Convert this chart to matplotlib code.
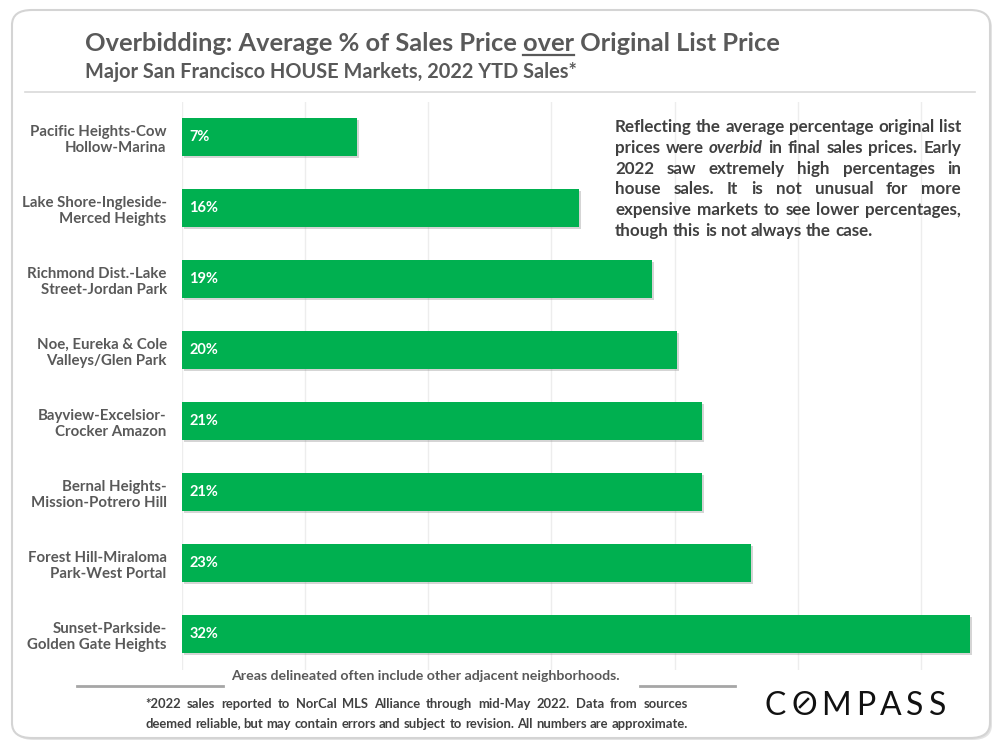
import matplotlib
matplotlib.use('Agg')
import matplotlib.pyplot as plt
from matplotlib.patches import FancyBboxPatch
from matplotlib.lines import Line2D
import matplotlib.patheffects as pe

# ---------------- data ----------------
categories = [
    "Pacific Heights-Cow\nHollow-Marina",
    "Lake Shore-Ingleside-\nMerced Heights",
    "Richmond Dist.-Lake\nStreet-Jordan Park",
    "Noe, Eureka & Cole\nValleys/Glen Park",
    "Bayview-Excelsior-\nCrocker Amazon",
    "Bernal Heights-\nMission-Potrero Hill",
    "Forest Hill-Miraloma\nPark-West Portal",
    "Sunset-Parkside-\nGolden Gate Heights",
]
values = [7.1, 16.1, 19.1, 20.1, 21.1, 21.1, 23.1, 32.0]
value_labels = ["7%", "16%", "19%", "20%", "21%", "21%", "23%", "32%"]

title = "Overbidding: Average % of Sales Price over Original List Price"
title_underlined = "over"
subtitle = "Major San Francisco HOUSE Markets, 2022 YTD Sales*"
note_lines = [
    "Reflecting the average percentage original list",
    "prices were overbid in final sales prices. Early",
    "2022 saw extremely high percentages in",
    "house sales. It is not unusual for more",
    "expensive markets to see lower percentages,",
    "though this is not always the case.",
]
note_italic = {"overbid"}
areas_note = "Areas delineated often include other adjacent neighborhoods."
foot_lines = [
    "*2022 sales reported to NorCal MLS Alliance through mid-May 2022. Data from sources",
    "deemed reliable, but may contain errors and subject to revision. All numbers are approximate.",
]
brand = "COMPASS"

# ---------------- setup ----------------
W, H = 1000, 750
fig = plt.figure(figsize=(10, 7.5), dpi=100)
fig.patch.set_facecolor('white')
renderer = fig.canvas.get_renderer()
FONT = ['Lato', 'DejaVu Sans']

GREEN = '#00B050'
GREY_T = '#595959'
DARK_T = '#404040'


def fx(px):
    return px / W


def fy(py):
    return 1 - py / H


def text_width(s, size, weight='bold', style='normal'):
    t = fig.text(0, 0, s, fontsize=size, fontweight=weight, fontstyle=style, family=FONT)
    w = t.get_window_extent(renderer).width
    t.remove()
    return w


def fit_size(s, target, weight='bold', style='normal'):
    return 10 * target / text_width(s, 10, weight, style)


# ---------------- frame ----------------
shadow = FancyBboxPatch((fx(14), fy(740)), fx(978), (738 - 10) / H,
                        boxstyle='round,pad=0,rounding_size=0.02',
                        transform=fig.transFigure, fc='#E4E4E4', ec='none', zorder=-3)
frame = FancyBboxPatch((fx(12), fy(738)), fx(978), (738 - 10) / H,
                       boxstyle='round,pad=0,rounding_size=0.02',
                       transform=fig.transFigure, fc='white', ec='#D4D4D4', lw=1.5, zorder=-2)
fig.add_artist(shadow)
fig.add_artist(frame)

# ---------------- title ----------------
tsize = fit_size(title, 697)
fig.text(fx(85), fy(51), title, fontsize=tsize, fontweight='bold', color=GREY_T,
         family=FONT, ha='left', va='baseline')
idx = title.index(title_underlined) + len(title_underlined)
end = text_width(title[:idx], tsize)
start = end - text_width(title_underlined, tsize)
fig.add_artist(Line2D([fx(85 + start), fx(85 + end)], [fy(55), fy(55)],
                      transform=fig.transFigure, color=GREY_T, lw=1.6))

ssize = fit_size(subtitle, 495)
fig.text(fx(85), fy(78), subtitle, fontsize=ssize, fontweight='bold', color=GREY_T,
         family=FONT, ha='left', va='baseline')

fig.add_artist(Line2D([fx(25), fx(975)], [fy(92), fy(92)], transform=fig.transFigure,
                      color='#D9D9D9', lw=1.2))

# ---------------- chart ----------------
ax = fig.add_axes([0.182, 0.1073, 0.793, 0.7573])
ax.set_facecolor('none')
ypos = list(range(len(categories)))
bars = ax.barh(ypos, values, height=0.53, color=GREEN, zorder=3)
for b in bars:
    b.set_path_effects([pe.SimplePatchShadow(offset=(1.5, -1.5), shadow_rgbFace='#888888', alpha=0.35),
                        pe.Normal()])
ax.set_xlim(0, 32.2)
ax.set_ylim(len(categories) - 0.5, -0.5)
ax.set_xticks(range(0, 31, 5))
ax.xaxis.grid(True, color='#EDEDED', lw=1)
ax.set_axisbelow(True)
ax.tick_params(axis='x', length=0, labelbottom=False)
ax.set_yticks(ypos)
csize = fit_size("Lake Shore-Ingleside-", 146)
ax.set_yticklabels(categories, fontsize=csize, fontweight='bold', color=GREY_T,
                   family=FONT, linespacing=1.25)
ax.tick_params(axis='y', length=0, pad=11)
for s in ax.spines.values():
    s.set_visible(False)

for i, (v, lab) in enumerate(zip(values, value_labels)):
    ax.text(0.3, i, lab, color='white', fontsize=10.5, fontweight='bold',
            family=FONT, ha='left', va='center', zorder=5)


# ---------------- justified text ----------------
def justify(lines, x0, x1, y0, dy, size, color, italic=set(), last_left=True):
    for li, line in enumerate(lines):
        words = line.split(' ')
        styles = ['italic' if w.strip('.,') in italic else 'normal' for w in words]
        widths = [text_width(w, size, 'bold', st) for w, st in zip(words, styles)]
        y = y0 + li * dy
        if li == len(lines) - 1 and last_left:
            gap = text_width('a b', size) - text_width('ab', size)
        else:
            gap = (x1 - x0 - sum(widths)) / (len(words) - 1)
        x = x0
        for w, st, wd in zip(words, styles, widths):
            fig.text(fx(x), fy(y), w, fontsize=size, fontweight='bold', fontstyle=st,
                     color=color, family=FONT, ha='left', va='baseline')
            x += wd + gap


nsize = min(fit_size(l, 346) for l in note_lines[:-1])
justify(note_lines, 615, 961, 132, 20.8, nsize, DARK_T, italic=note_italic)

fsize = min(fit_size(l, 543) for l in foot_lines)
justify(foot_lines, 145, 688, 708, 19.5, fsize, DARK_T, last_left=False)

# ---------------- footer ----------------
asize = fit_size(areas_note, 389)
fig.text(fx(231), fy(680), areas_note, fontsize=asize, fontweight='bold', color=GREY_T,
         family=FONT, ha='left', va='baseline')
fig.add_artist(Line2D([fx(77), fx(223)], [fy(686), fy(686)], transform=fig.transFigure,
                      color='#A6A6A6', lw=2))
fig.add_artist(Line2D([fx(640), fx(735)], [fy(686), fy(686)], transform=fig.transFigure,
                      color='#A6A6A6', lw=2))

# ---------------- brand ----------------
bsize = 23
bw = [text_width(c, bsize, 'normal') for c in brand]
bgap = (181 - sum(bw)) / (len(brand) - 1)
bx = 765
for c, w in zip(brand, bw):
    fig.text(fx(bx), fy(715), c, fontsize=bsize, fontweight='normal', color='#111111',
             family=FONT, ha='left', va='baseline')
    if c == 'O':
        cx, cy, r = bx + w / 2, 703, w * 0.19
        fig.add_artist(Line2D([fx(cx - r), fx(cx + r)], [fy(cy + r), fy(cy - r)],
                              transform=fig.transFigure, color='#111111', lw=1.8,
                              solid_capstyle='butt'))
    bx += w + bgap

fig.savefig('out.png', dpi=100)
